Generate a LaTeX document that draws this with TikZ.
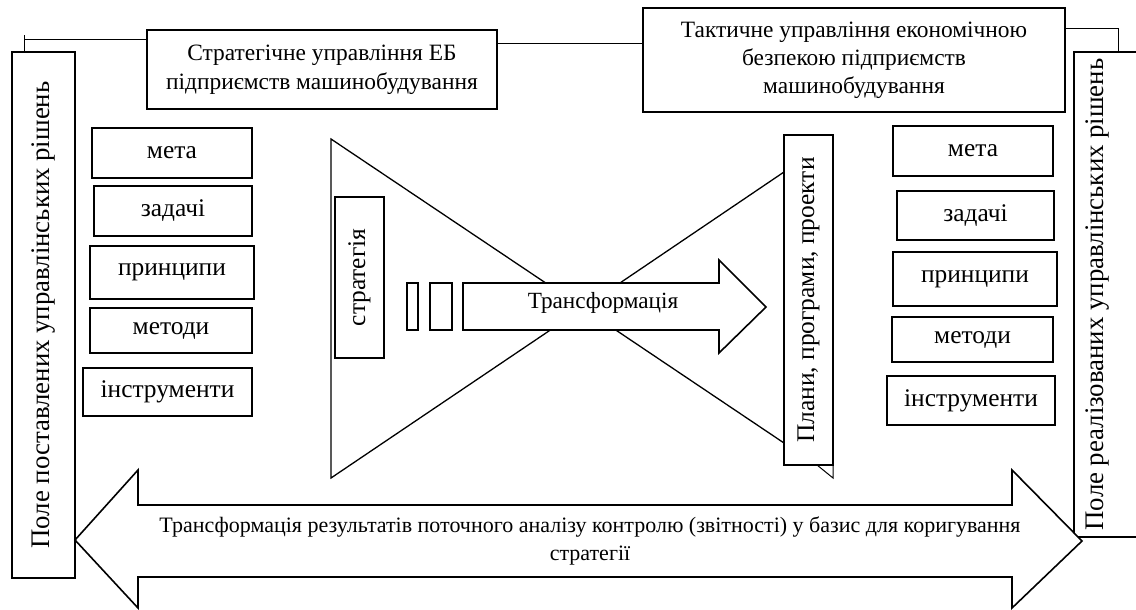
\documentclass[tikz,border=0pt]{standalone}
\usepackage{fontspec}
\setmainfont{Liberation Serif}
\begin{document}
\begin{tikzpicture}[x=0.5pt,y=-0.5pt,
  box/.style={draw, line width=0.8pt, fill=white, inner sep=0pt, align=center,
    font=\fontsize{12}{14}\selectfont},
  sz/.style 2 args={minimum width=#1*0.5pt, minimum height=#2*0.5pt},
  item/.style={box, font=\fontsize{12.7}{15}\selectfont},
  vert/.style={rotate=90, font=\fontsize{13.4}{15}\selectfont},
  thin/.style={line width=0.5pt},
  shape line/.style={line width=0.65pt, line join=miter},
  bigarrow/.style={draw, line width=0.8pt, fill=white, line join=miter}]
\useasboundingbox (0,0) rectangle (1136,610);
\clip (0,0) rectangle (1136,610);

% hourglass made of two triangles meeting at one apex
\coordinate (tl) at (331,139);
\coordinate (bl) at (331,478);
\coordinate (ap) at (583,308);
\coordinate (tr) at (784,172);
\coordinate (br) at (784,443);
\draw[shape line] (tl) -- (ap) -- (bl) -- cycle;
\draw[shape line] (ap) -- (tr) -- (br) -- cycle;

% side fields
\node[box, vert, sz={526}{63}] (lbox) at (43.5,315) {Поле поставлених управлінських рішень};
\node[box, rotate=90, sz={485}{66}] (rbox) at (1107,294.5) {};
\node[vert] (rtext) at (1098,294.5) {Поле реалізованих управлінських рішень};

% headers
\node[box, sz={350}{79}, font=\fontsize{11.7}{14.5}\selectfont] (sbox) at (322,69.5)
  {Стратегічне управління ЕБ\\підприємств машинобудування};
\node[box, sz={422}{104}, font=\fontsize{11.7}{14}\selectfont] (tbox) at (854,60)
  {Тактичне управління економічною\\безпекою підприємств\\машинобудування};

% header connectors
\coordinate (ly) at (0,40);
\coordinate (my) at (0,44);
\coordinate (ry) at (0,29);
\coordinate (lc) at (24,52);
\coordinate (rc) at (1118,52);
\draw[thin] (sbox.west |- ly) -- (lc |- ly) (lc) -- ++(0,-17);
\draw[thin] (sbox.east |- my) -- (tbox.west |- my);
\draw[thin] (tbox.east |- ry) -- (rc |- ry) -- (rc);

% left list
\node[item, sz={160}{50}] (l1) at (172,153) {мета};
\node[item, sz={158}{50}] (l2) at (173,211) {задачі};
\node[item, sz={164}{53}] (l3) at (172,272.5) {принципи};
\node[item, sz={162}{45}] (l4) at (171,330.5) {методи};
\node[item, sz={169}{48}] (l5) at (167.5,392) {інструменти};

% right list
\node[item, sz={160}{50}] (r1) at (973,151) {мета};
\node[item, sz={157}{49}] (r2) at (975.5,215.5) {задачі};
\node[item, sz={164}{54}] (r3) at (975,279) {принципи};
\node[item, sz={161}{45}] (r4) at (972.5,339.5) {методи};
\node[item, sz={168}{49}] (r5) at (971,400.5) {інструменти};

% centre: strategy, small bars, transformation arrow, plans
\node[item, rotate=90, sz={161}{49}] (strat) at (359.5,277.5) {стратегія};
\node[box, sz={11}{47}] (bar1) at (412.5,306.5) {};
\node[box, sz={22}{47}] (bar2) at (441,306.5) {};
\draw[bigarrow] (463,283) -- (719,283) -- (719,260) -- (766,307) -- (719,353)
  -- (719,330) -- (463,330) -- cycle;
\node[font=\fontsize{11.6}{14}\selectfont] (trans) at (603,303) {Трансформація};
\node[item, rotate=90, sz={330}{49}] (plans) at (808.5,300) {Плани, програми, проекти};
\draw[thin] (817,465) -- (833,478) -- (833,465);

% feedback double arrow
\draw[bigarrow] (75,540) -- (138,470) -- (138,505) -- (1012,505) -- (1012,470)
  -- (1082,541) -- (1012,608) -- (1012,577) -- (138,577) -- (138,608) -- cycle;
\node[align=center, font=\fontsize{11}{14}\selectfont] (fb) at (590,541)
  {Трансформація результатів поточного аналізу контролю (звітності) у базис для коригування\\стратегії};
\end{tikzpicture}
\end{document}
